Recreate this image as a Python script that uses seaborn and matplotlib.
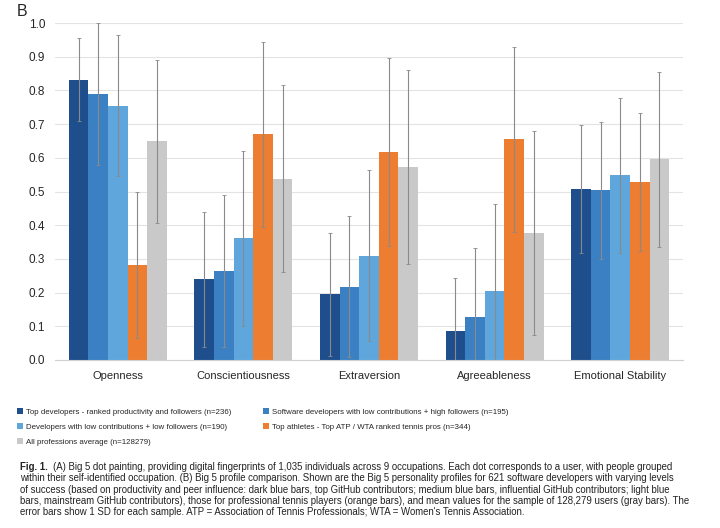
import numpy as np
import pandas as pd
import seaborn as sns
import matplotlib.pyplot as plt
from matplotlib.patches import Patch

traits = ["Openness", "Conscientiousness", "Extraversion", "Agreeableness", "Emotional Stability"]
groups = [
    "Top developers - ranked productivity and followers (n=236)",
    "Software developers with low contributions + high followers (n=195)",
    "Developers with low contributions + low followers (n=190)",
    "Top athletes - Top ATP / WTA ranked tennis pros (n=344)",
    "All professions average (n=128279)",
]
colors = ["#1f4e8c", "#3a80c2", "#5ea6dc", "#ed7d31", "#c9c9c9"]

# mean values per group
top_devs = [0.832, 0.240, 0.195, 0.087, 0.507]
high_followers = [0.789, 0.265, 0.218, 0.128, 0.503]
low_low = [0.755, 0.361, 0.310, 0.205, 0.548]
athletes = [0.282, 0.670, 0.617, 0.655, 0.528]
all_prof = [0.649, 0.538, 0.573, 0.377, 0.596]

# standard deviations (error bars)
top_devs_sd = [0.123, 0.200, 0.183, 0.156, 0.190]
high_followers_sd = [0.211, 0.225, 0.210, 0.205, 0.202]
low_low_sd = [0.210, 0.259, 0.255, 0.257, 0.230]
athletes_sd = [0.218, 0.275, 0.278, 0.275, 0.205]
all_prof_sd = [0.241, 0.278, 0.287, 0.302, 0.260]

means = [top_devs, high_followers, low_low, athletes, all_prof]
sds = [top_devs_sd, high_followers_sd, low_low_sd, athletes_sd, all_prof_sd]

df = pd.DataFrame(
    [(t, g, m[i]) for g, m in zip(groups, means) for i, t in enumerate(traits)],
    columns=["trait", "group", "score"],
)

sns.set_style("white")
plt.rcParams["font.family"] = ["Liberation Sans", "DejaVu Sans"]

fig = plt.figure(figsize=(7.2, 5.28), dpi=100)
ax = fig.add_axes([55 / 720, 1 - 360 / 528, 628 / 720, 337 / 528])

sns.barplot(data=df, x="trait", y="score", hue="group", hue_order=groups,
            order=traits, palette=colors, saturation=1, errorbar=None,
            width=0.78, linewidth=0, legend=False, ax=ax, zorder=2)

for cont, sd in zip(ax.containers, sds):
    xs = [b.get_x() + b.get_width() / 2 for b in cont]
    ys = [b.get_height() for b in cont]
    ax.errorbar(xs, ys, yerr=sd, fmt="none", ecolor="#8a8a8a",
                elinewidth=0.8, capsize=1.2, capthick=0.6, zorder=3)

ax.set_ylim(0, 1.0)
ax.set_xlim(-0.5, 4.5)
ax.set_yticks(np.arange(0, 1.01, 0.1))
ax.set_yticklabels([f"{v:.1f}" for v in np.arange(0, 1.01, 0.1)], fontsize=8.5)
ax.yaxis.grid(True, color="#e3e3e3", lw=0.8, zorder=0)
ax.set_axisbelow(True)
ax.set_xticks(range(len(traits)))
ax.set_xticklabels(traits, fontsize=8)
ax.set_xticks(np.arange(-0.5, 4.6, 1), minor=True)
ax.tick_params(axis="x", which="major", length=0, pad=8)
ax.tick_params(axis="x", which="minor", length=4, color="#d0d0d0", direction="out")
ax.tick_params(axis="y", length=0, pad=7)
for s in ["left", "right", "top"]:
    ax.spines[s].set_visible(False)
ax.spines["bottom"].set_color("#d0d0d0")
ax.set_xlabel("")
ax.set_ylabel("")

fig.text(17 / 720, 1 - 11 / 528, "B", fontsize=11.5, va="center", ha="left")

handles = [Patch(facecolor=c, edgecolor="none") for c in colors]
order = [0, 2, 4, 1, 3]
fig.legend([handles[i] for i in order], [groups[i] for i in order],
           loc="upper left", bbox_to_anchor=(10 / 720, 1 - 401 / 528),
           ncol=2, frameon=False, fontsize=5.7, handlelength=0.75,
           handleheight=0.75, handletextpad=0.4, labelspacing=0.95,
           columnspacing=4.0)

caption = [
    "(A) Big 5 dot painting, providing digital fingerprints of 1,035 individuals across 9 occupations. Each dot corresponds to a user, with people grouped",
    "within their self-identified occupation. (B) Big 5 profile comparison. Shown are the Big 5 personality profiles for 621 software developers with varying levels",
    "of success (based on productivity and peer influence: dark blue bars, top GitHub contributors; medium blue bars, influential GitHub contributors; light blue",
    "bars, mainstream GitHub contributors), those for professional tennis players (orange bars), and mean values for the sample of 128,279 users (gray bars). The",
    "error bars show 1 SD for each sample. ATP = Association of Tennis Professionals; WTA = Women's Tennis Association.",
]
y0 = 467
for i, line in enumerate(caption):
    x = 53 if i == 0 else 20
    fig.text(x / 720, 1 - (y0 + i * 11.3) / 528, line, fontsize=6.95,
             va="center", ha="left", color="#222222")
fig.text(20 / 720, 1 - y0 / 528, "Fig. 1.", fontsize=6.95, fontweight="bold",
         va="center", ha="left", color="#222222")

fig.savefig("out.png", dpi=100)
